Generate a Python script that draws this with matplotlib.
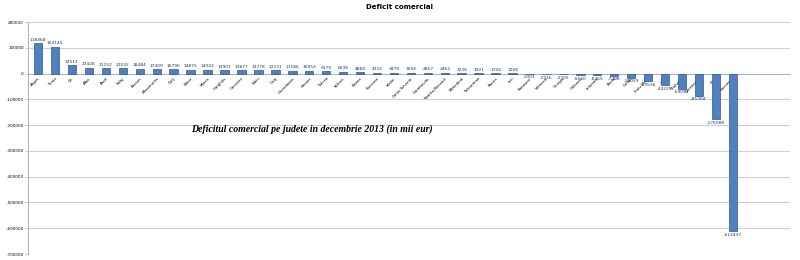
import matplotlib
matplotlib.use("Agg")
import matplotlib.pyplot as plt

judete = ["Arges", "Timis", "Olt", "Alba", "Arad", "Salaj", "Brasov", "Maramures",
          "Dolj", "Bihor", "Mures", "Harghita", "Covasna", "Sibiu", "Gorj", "Hunedoara",
          "Neamt", "Tulcea", "Valcea", "Buzau", "Suceava", "Vaslui", "Caras-Severin",
          "Dambovita", "Bistrita-Nasaud", "Mehedinti", "Teleorman", "Bacau", "Iasi",
          "Botosani", "Vrancea", "Giurgiu", "Calarasi", "Ialomita", "Braila", "Galati",
          "Satu Mare", "Cluj", "Prahova", "Constanta", "Ilfov", "Bucuresti"]
deficit = [118468, 104145, 32511, 23428, 21152, 21032, 18484, 17409, 16796, 14875,
           14043, 13903, 13877, 13778, 12231, 11186, 10954, 9179, 6638, 4884, 4315,
           3479, 3056, 2857, 2462, 2236, 1921, 1704, 1268, -1003, -1916, -2705, -5640,
           -6355, -7398, -16059, -29536, -44225, -59094, -85304, -176088, -612437]
yticks = [200000, 100000, 0, -100000, -200000, -300000, -400000, -500000, -600000, -700000]

fig = plt.figure(figsize=(8, 2.6), dpi=100)
ax = fig.add_axes([0.035, 0.023, 0.953, 0.892])
ax.spines["bottom"].set_position(("data", 0))
ax.spines["bottom"].set_color("#9BB0CC")
ax.spines["bottom"].set_linewidth(0.6)
ax.spines["bottom"].set_zorder(2)
for s in ["top", "right"]:
    ax.spines[s].set_visible(False)
ax.spines["left"].set_color("#A0A0A0")
ax.spines["left"].set_linewidth(0.6)

x = list(range(len(deficit)))
ax.bar(x, deficit, width=0.5, color="#4F81BD", edgecolor="#2F5597", linewidth=0.5, zorder=3)
for xi, v in zip(x, deficit):
    if v >= 0:
        ax.text(xi, v + 6000, str(v), ha="center", va="bottom", fontsize=3.2, color="#1F3864")
    else:
        ax.text(xi, v - 6000, str(v), ha="center", va="top", fontsize=3.2, color="#1F3864")
ax.set_ylim(-700000, 200000)
ax.set_xlim(-0.6, 44.4)
ax.set_yticks(yticks)
ax.set_yticklabels([str(t) for t in yticks], fontsize=3)
ax.set_xticks(x)
ax.set_xticklabels(judete, rotation=45, ha="right", rotation_mode="anchor", fontsize=2.8)
ax.tick_params(axis="x", length=0, pad=2)
ax.tick_params(axis="y", length=2, width=0.4, color="#A0A0A0", pad=1)
ax.grid(axis="y", color="#D0D0D0", linewidth=0.8, zorder=0)

fig.text(0.5, 0.972, "Deficit comercial", ha="center", va="center", fontsize=5, fontweight="bold")
fig.text(0.39, 0.505, "Deficitul comercial pe judete in decembrie 2013 (in mii eur)",
         ha="center", va="center", fontsize=7,
         family="Liberation Serif", fontstyle="italic", fontweight="bold")
fig.savefig("out.png", dpi=100)
